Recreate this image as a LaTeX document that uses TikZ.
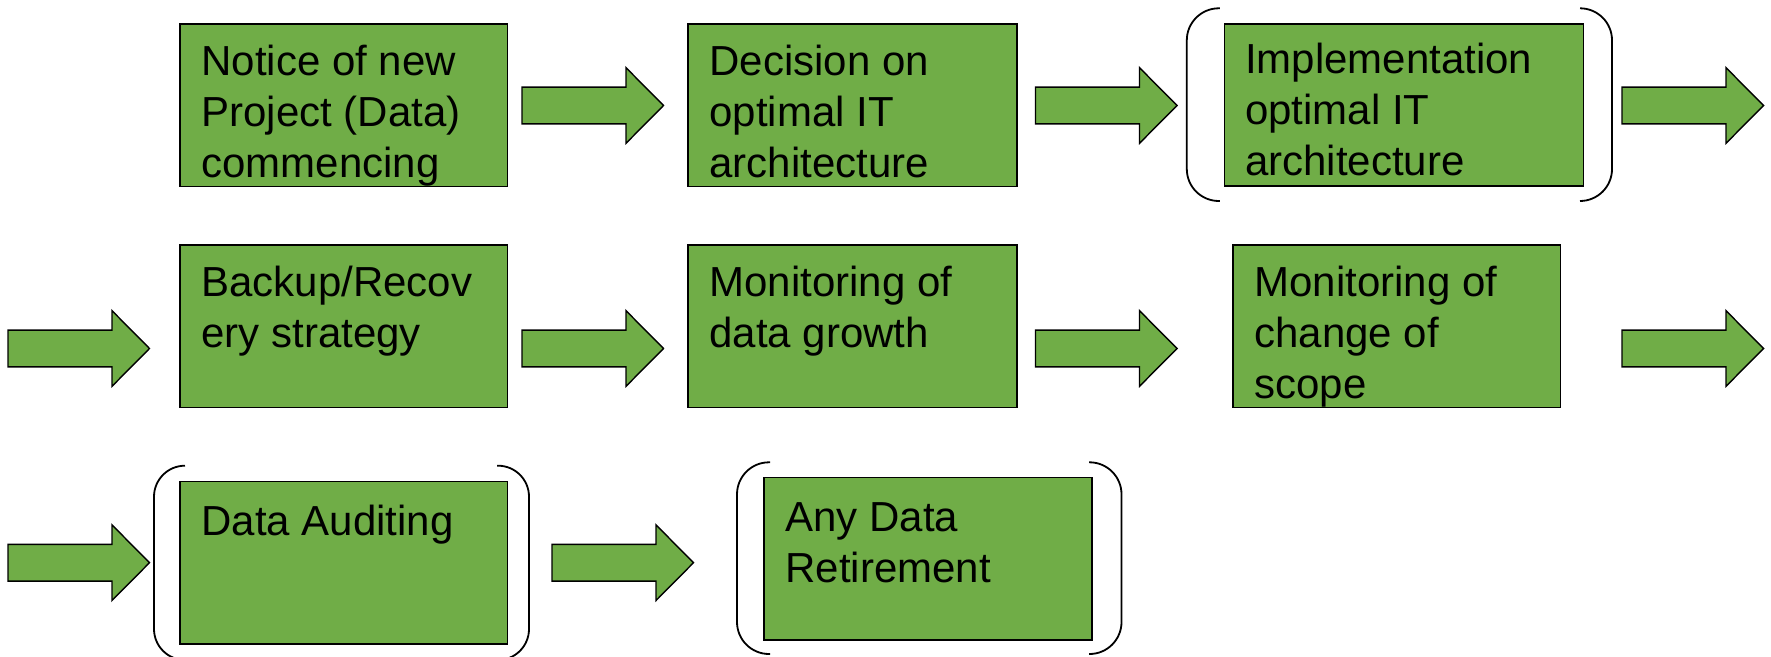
\documentclass[tikz,border=0pt]{standalone}
\usepackage{fontspec}
\setmainfont{Liberation Sans}
\definecolor{boxgreen}{HTML}{70AD47}
\begin{document}
\begin{tikzpicture}[x=0.5pt,y=-0.5pt,
  box/.style={draw=black, fill=boxgreen, line width=0.75pt, rectangle, inner sep=0pt, outer sep=0pt, anchor=north west},
  txt/.style={anchor=north west, inner sep=0pt, align=left, font=\fontsize{21}{25.5}\selectfont, xshift=10.5pt, yshift=-10.5pt},
  brk/.style={draw=black, line width=0.9pt},
  blockarrow/.pic={\draw[draw=black, fill=boxgreen, line width=0.7pt, line join=miter]
     (0,-18.35) -- (104,-18.35) -- (104,-37.8) -- (141.5,0) -- (104,37.8) -- (104,18.35) -- (0,18.35) -- cycle;}
]
\useasboundingbox (0,0) rectangle (1771,657);

% brackets
\draw[brk, rounded corners=16pt] (1219.8,8.3) -- (1186.8,8.3) -- (1186.8,201) -- (1219.8,201);
\draw[brk, rounded corners=16pt] (1580,8.3) -- (1612,8.3) -- (1612,201) -- (1580,201);
\draw[brk, rounded corners=15.5pt] (185,465.7) -- (154,465.7) -- (154,660) -- (185,660);
\draw[brk, rounded corners=15.5pt] (497,465.7) -- (529,465.7) -- (529,660) -- (497,660);
\draw[brk, rounded corners=16pt] (770,462.3) -- (737,462.3) -- (737,654) -- (770,654);
\draw[brk, rounded corners=16pt] (1089,462.3) -- (1121.5,462.3) -- (1121.5,654) -- (1089,654);

% boxes
\node[box, minimum width=163.8pt, minimum height=81.35pt] (b1) at (180,24) {};
\node[box, minimum width=164.5pt, minimum height=81.35pt] (b2) at (688,24) {};
\node[box, minimum width=179.45pt, minimum height=81pt] (b3) at (1224.7,24) {};
\node[box, minimum width=163.8pt, minimum height=81.35pt] (b4) at (180,245) {};
\node[box, minimum width=164.5pt, minimum height=81.35pt] (b5) at (688,245) {};
\node[box, minimum width=163.75pt, minimum height=81.35pt] (b6) at (1233,245) {};
\node[box, minimum width=163.8pt, minimum height=81.15pt] (b7) at (180,481.7) {};
\node[box, minimum width=164pt, minimum height=81.15pt] (b8) at (764,477.7) {};

% texts
\node[txt] (t1) at (b1.north west) {Notice of new\\Project (Data)\\commencing};
\node[txt] (t2) at (b2.north west) {Decision on\\optimal IT\\architecture};
\node[txt, xshift=-0.5pt, yshift=1pt] (t3) at (b3.north west) {Implementation\\optimal IT\\architecture};
\node[txt] (t4) at (b4.north west) {Backup/Recov\\ery strategy};
\node[txt] (t5) at (b5.north west) {Monitoring of\\data growth};
\node[txt] (t6) at (b6.north west) {Monitoring of\\change of\\scope};
\node[txt, yshift=-1pt] (t7) at (b7.north west) {Data Auditing};
\node[txt, yshift=-2pt] (t8) at (b8.north west) {Any Data\\Retirement};

% block arrows
\pic (a1) at (522,105.5) {blockarrow};
\pic (a2) at (1035.5,105.5) {blockarrow};
\pic (a3) at (1622,105.5) {blockarrow};
\pic (a4) at (8,348.5) {blockarrow};
\pic (a5) at (522,348.5) {blockarrow};
\pic (a6) at (1035.5,348.5) {blockarrow};
\pic (a7) at (1622,348.5) {blockarrow};
\pic (a8) at (8,562.7) {blockarrow};
\pic (a9) at (552,562.7) {blockarrow};
\end{tikzpicture}
\end{document}
